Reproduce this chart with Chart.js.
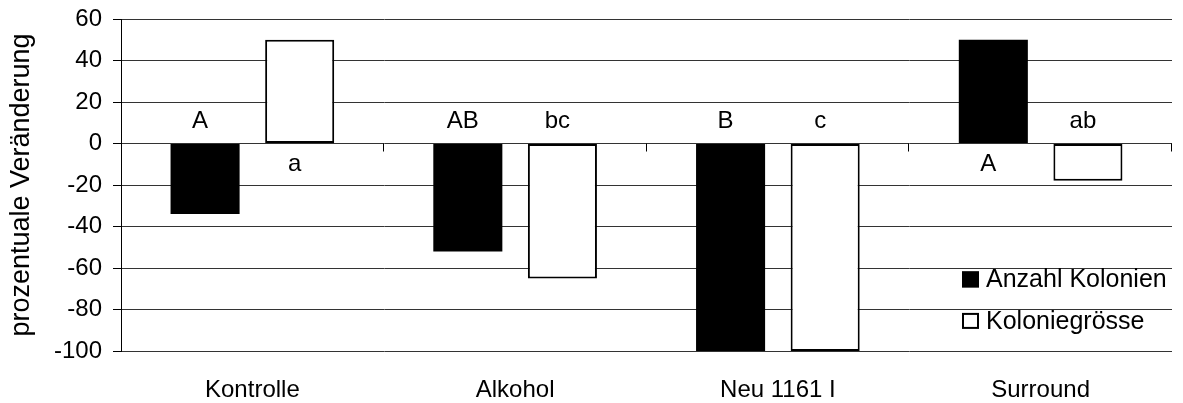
<!DOCTYPE html>
<html>
<head>
<meta charset="utf-8">
<script src="https://cdn.jsdelivr.net/npm/chart.js@4/dist/chart.umd.min.js"></script>
<style>
  html, body { margin: 0; padding: 0; background: #fff; }
  #wrap { width: 1183px; height: 403px; position: relative; }
</style>
</head>
<body>
<div id="wrap"><canvas id="c"></canvas></div>
<script>
const categories = ['Kontrolle', 'Alkohol', 'Neu 1161 I', 'Surround'];
const anzahlKolonien = [-34, -52, -100, 50];
const koloniegroesse = [50, -65, -100, -18];
const anzahlLetters = ['A', 'AB', 'B', 'A'];
const groesseLetters = ['a', 'bc', 'c', 'ab'];
const seriesNames = ['Anzahl Kolonien', 'Koloniegrösse'];
const yTitle = 'prozentuale Veränderung';
const yMin = -100, yMax = 60, yStep = 20;

const FONT = "'Liberation Sans', Arial, sans-serif";
const FS = 24;

const letterPlugin = {
  id: 'letters',
  afterDatasetsDraw(chart) {
    const ctx = chart.ctx;
    const y0 = chart.scales.y.getPixelForValue(0);
    const sets = [anzahlLetters, groesseLetters];
    ctx.save();
    ctx.font = FS + 'px ' + FONT;
    ctx.fillStyle = '#000';
    ctx.textAlign = 'center';
    ctx.textBaseline = 'middle';
    sets.forEach((letters, di) => {
      const meta = chart.getDatasetMeta(di);
      meta.data.forEach((bar, i) => {
        const v = chart.data.datasets[di].data[i];
        const y = v < 0 ? y0 - 22 : y0 + 21;
        ctx.fillText(letters[i], bar.x - 5, y);
      });
    });
    ctx.restore();
  }
};

const axisPlugin = {
  id: 'zeroTicks',
  afterDraw(chart) {
    const ctx = chart.ctx;
    const xs = chart.scales.x;
    const ysc = chart.scales.y;
    const y0 = ysc.getPixelForValue(0);
    const n = categories.length;
    const w = (xs.right - xs.left) / n;
    ctx.save();
    ctx.strokeStyle = '#000';
    ctx.lineWidth = 1;
    for (let i = 1; i <= n; i++) {
      const x = Math.round(xs.left + w * i) - 0.5;
      ctx.beginPath();
      ctx.moveTo(x, y0);
      ctx.lineTo(x, y0 + 8);
      ctx.stroke();
    }
    // legend
    const ca = chart.chartArea;
    ctx.font = '25px ' + FONT;
    ctx.textBaseline = 'middle';
    ctx.textAlign = 'left';
    const lx = ca.right - 210;
    const ys = [ysc.getPixelForValue(-65.5), ysc.getPixelForValue(-85.5)];
    chart.data.datasets.forEach((ds, i) => {
      const cy = ys[i];
      ctx.fillStyle = ds.backgroundColor;
      ctx.fillRect(lx, cy - 8, 17, 16);
      ctx.strokeStyle = '#000';
      ctx.lineWidth = 2;
      ctx.strokeRect(lx + 1, cy - 7, 15, 14);
      ctx.fillStyle = '#000';
      ctx.fillText(ds.label, lx + 24, cy + 1);
    });
    ctx.restore();
  }
};

new Chart(document.getElementById('c'), {
  type: 'bar',
  data: {
    labels: categories,
    datasets: [
      { label: seriesNames[0], data: anzahlKolonien, backgroundColor: '#000', borderColor: '#000', borderWidth: 0, borderSkipped: false },
      { label: seriesNames[1], data: koloniegroesse, backgroundColor: '#fff', borderColor: '#000', borderWidth: 2, borderSkipped: false }
    ]
  },
  options: {
    responsive: true,
    maintainAspectRatio: false,
    animation: false,
    events: [],
    layout: { padding: { top: 19, right: 11, left: 0, bottom: 0 } },
    plugins: { legend: { display: false }, tooltip: { enabled: false } },
    datasets: { bar: { categoryPercentage: 0.72, barPercentage: 0.73 } },
    scales: {
      x: {
        grid: { display: false },
        border: { display: false },
        ticks: { color: '#000', font: { family: FONT, size: FS }, padding: 17, maxRotation: 0 },
        afterFit(s) { s.height = 52; s.paddingLeft = 0; s.paddingRight = 0; }
      },
      y: {
        min: yMin, max: yMax,
        ticks: { stepSize: yStep, color: '#000', font: { family: FONT, size: FS }, padding: 11 },
        grid: { color: '#333', lineWidth: 1, tickLength: 8, tickColor: '#000' },
        border: { display: true, color: '#000', width: 1 },
        title: { display: true, text: yTitle, color: '#000', font: { family: FONT, size: 27 }, padding: { top: 5, bottom: 0 } },
        afterFit(s) { s.width = 121; s.paddingTop = 0; s.paddingBottom = 0; }
      }
    }
  },
  plugins: [letterPlugin, axisPlugin]
});
</script>
</body>
</html>
